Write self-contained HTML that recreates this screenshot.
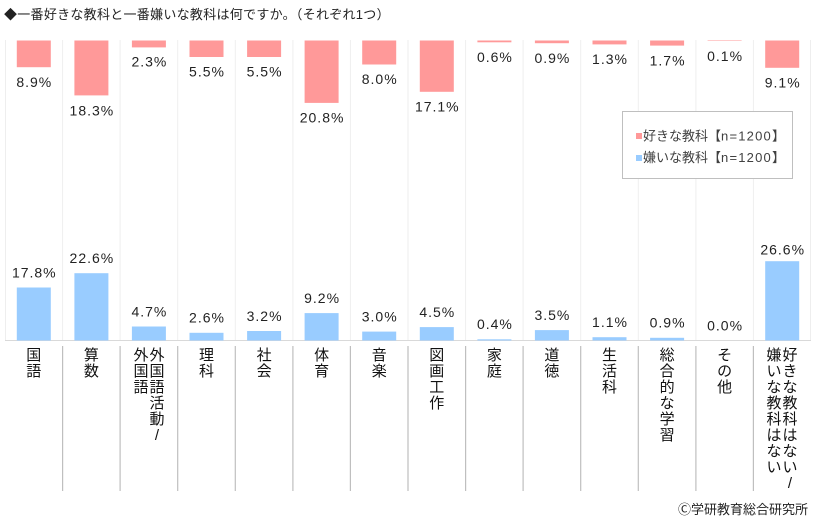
<!DOCTYPE html>
<html><head><meta charset="utf-8">
<style>
html,body{margin:0;padding:0;background:#fff;}
svg{display:block;}
.t{font-family:"Liberation Sans","Noto Sans CJK JP",sans-serif;}
.pct{font-family:"Liberation Sans","Noto Sans CJK JP",sans-serif;font-size:14px;letter-spacing:1px;fill:#222;text-anchor:middle;}
.cat{font-family:"Liberation Sans","Noto Sans CJK JP",sans-serif;font-size:15px;fill:#111;text-anchor:middle;font-weight:400;}
</style></head>
<body>
<svg width="814" height="526" viewBox="0 0 814 526" xmlns="http://www.w3.org/2000/svg">
<text class="t" x="4" y="19" font-size="13" fill="#222" letter-spacing="0.28">◆一番好きな教科と一番嫌いな教科は何ですか。（それぞれ1つ）</text>
<g stroke="#eeeeee" stroke-width="1">
<line x1="5.5" y1="40" x2="5.5" y2="341"/>
<line x1="62.6" y1="40" x2="62.6" y2="341"/>
<line x1="120.1" y1="40" x2="120.1" y2="341"/>
<line x1="177.7" y1="40" x2="177.7" y2="341"/>
<line x1="235.3" y1="40" x2="235.3" y2="341"/>
<line x1="292.9" y1="40" x2="292.9" y2="341"/>
<line x1="350.4" y1="40" x2="350.4" y2="341"/>
<line x1="408" y1="40" x2="408" y2="341"/>
<line x1="465.6" y1="40" x2="465.6" y2="341"/>
<line x1="523.1" y1="40" x2="523.1" y2="341"/>
<line x1="580.7" y1="40" x2="580.7" y2="341"/>
<line x1="638.3" y1="40" x2="638.3" y2="341"/>
<line x1="695.9" y1="40" x2="695.9" y2="341"/>
<line x1="753.4" y1="40" x2="753.4" y2="341"/>
<line x1="810.5" y1="40" x2="810.5" y2="341"/>
</g>
<line x1="5" y1="340.5" x2="811" y2="340.5" stroke="#d9d9d9" stroke-width="1"/>
<g stroke="#bfbfbf" stroke-width="1.2">
<line x1="62.6" y1="346" x2="62.6" y2="491"/>
<line x1="120.1" y1="346" x2="120.1" y2="491"/>
<line x1="177.7" y1="346" x2="177.7" y2="491"/>
<line x1="235.3" y1="346" x2="235.3" y2="491"/>
<line x1="292.9" y1="346" x2="292.9" y2="491"/>
<line x1="350.4" y1="346" x2="350.4" y2="491"/>
<line x1="408" y1="346" x2="408" y2="491"/>
<line x1="465.6" y1="346" x2="465.6" y2="491"/>
<line x1="523.1" y1="346" x2="523.1" y2="491"/>
<line x1="580.7" y1="346" x2="580.7" y2="491"/>
<line x1="638.3" y1="346" x2="638.3" y2="491"/>
<line x1="695.9" y1="346" x2="695.9" y2="491"/>
<line x1="753.4" y1="346" x2="753.4" y2="491"/>
</g>
<!-- pink bars -->
<g fill="#ff9999">
<rect x="16.8" y="40.5" width="34" height="26.7"/>
<rect x="74.4" y="40.5" width="34" height="54.9"/>
<rect x="131.9" y="40.5" width="34" height="6.9"/>
<rect x="189.5" y="40.5" width="34" height="16.5"/>
<rect x="247.1" y="40.5" width="34" height="16.5"/>
<rect x="304.6" y="40.5" width="34" height="62.4"/>
<rect x="362.2" y="40.5" width="34" height="24"/>
<rect x="419.8" y="40.5" width="34" height="51.3"/>
<rect x="477.4" y="40.5" width="34" height="1.8"/>
<rect x="534.9" y="40.5" width="34" height="2.7"/>
<rect x="592.5" y="40.5" width="34" height="3.9"/>
<rect x="650.1" y="40.5" width="34" height="5.1"/>
<rect x="707.6" y="40.5" width="34" height="0.5"/>
<rect x="765.2" y="40.5" width="34" height="27.3"/>
</g>
<!-- blue bars -->
<g fill="#99ccff">
<rect x="16.8" y="287.5" width="34" height="53"/>
<rect x="74.4" y="273.2" width="34" height="67.3"/>
<rect x="131.9" y="326.5" width="34" height="14"/>
<rect x="189.5" y="332.8" width="34" height="7.7"/>
<rect x="247.1" y="331" width="34" height="9.5"/>
<rect x="304.6" y="313.1" width="34" height="27.4"/>
<rect x="362.2" y="331.6" width="34" height="8.9"/>
<rect x="419.8" y="327.1" width="34" height="13.4"/>
<rect x="477.4" y="339.3" width="34" height="1.2"/>
<rect x="534.9" y="330.1" width="34" height="10.4"/>
<rect x="592.5" y="337.2" width="34" height="3.3"/>
<rect x="650.1" y="337.8" width="34" height="2.7"/>
<rect x="765.2" y="261.2" width="34" height="79.3"/>
</g>
<!-- pink labels -->
<text class="pct" x="34.3" y="87">8.9%</text>
<text class="pct" x="91.9" y="115.5">18.3%</text>
<text class="pct" x="149.4" y="66.5">2.3%</text>
<text class="pct" x="207" y="76.5">5.5%</text>
<text class="pct" x="264.6" y="76.5">5.5%</text>
<text class="pct" x="322.1" y="122.5">20.8%</text>
<text class="pct" x="379.7" y="84">8.0%</text>
<text class="pct" x="437.3" y="111.5">17.1%</text>
<text class="pct" x="494.9" y="62">0.6%</text>
<text class="pct" x="552.4" y="63">0.9%</text>
<text class="pct" x="610" y="64">1.3%</text>
<text class="pct" x="667.6" y="65.5">1.7%</text>
<text class="pct" x="725.1" y="61">0.1%</text>
<text class="pct" x="782.7" y="87.5">9.1%</text>
<!-- blue labels -->
<text class="pct" x="34.3" y="277.3">17.8%</text>
<text class="pct" x="91.9" y="263">22.6%</text>
<text class="pct" x="149.4" y="316.3">4.7%</text>
<text class="pct" x="207" y="322.6">2.6%</text>
<text class="pct" x="264.6" y="320.8">3.2%</text>
<text class="pct" x="322.1" y="302.9">9.2%</text>
<text class="pct" x="379.7" y="321.4">3.0%</text>
<text class="pct" x="437.3" y="316.9">4.5%</text>
<text class="pct" x="494.9" y="329.1">0.4%</text>
<text class="pct" x="552.4" y="319.9">3.5%</text>
<text class="pct" x="610" y="327">1.1%</text>
<text class="pct" x="667.6" y="327.6">0.9%</text>
<text class="pct" x="725.1" y="330.3">0.0%</text>
<text class="pct" x="782.7" y="254.5">26.6%</text>
<!-- legend -->
<rect x="622.5" y="111.5" width="170" height="67" fill="#fff" stroke="#bfbfbf" stroke-width="1"/>
<rect x="636" y="133" width="6" height="6" fill="#ff9999"/>
<rect x="636" y="155" width="6" height="6" fill="#99ccff"/>
<text class="t" x="643" y="140.5" font-size="13" fill="#404040">好きな教科【<tspan letter-spacing="1.2">n=1200</tspan>】</text>
<text class="t" x="643" y="162" font-size="13" fill="#404040">嫌いな教科【<tspan letter-spacing="1.2">n=1200</tspan>】</text>
<!-- category labels -->
<g class="cat">
<text x="33.8" y="360">国</text><text x="33.8" y="376">語</text>
<text x="91.4" y="360">算</text><text x="91.4" y="376">数</text>
<text x="157" y="360">外</text><text x="157" y="376">国</text><text x="157" y="392">語</text><text x="157" y="408">活</text><text x="157" y="424">動</text><text x="157" y="440">/</text>
<text x="141" y="360">外</text><text x="141" y="376">国</text><text x="141" y="392">語</text>
<text x="206.5" y="360">理</text><text x="206.5" y="376">科</text>
<text x="264.1" y="360">社</text><text x="264.1" y="376">会</text>
<text x="321.6" y="360">体</text><text x="321.6" y="376">育</text>
<text x="379.2" y="360">音</text><text x="379.2" y="376">楽</text>
<text x="436.8" y="360">図</text><text x="436.8" y="376">画</text><text x="436.8" y="392">工</text><text x="436.8" y="408">作</text>
<text x="494.4" y="360">家</text><text x="494.4" y="376">庭</text>
<text x="551.9" y="360">道</text><text x="551.9" y="376">徳</text>
<text x="609.5" y="360">生</text><text x="609.5" y="376">活</text><text x="609.5" y="392">科</text>
<text x="667.1" y="360">総</text><text x="667.1" y="376">合</text><text x="667.1" y="392">的</text><text x="667.1" y="408">な</text><text x="667.1" y="424">学</text><text x="667.1" y="440">習</text>
<text x="724.6" y="360">そ</text><text x="724.6" y="376">の</text><text x="724.6" y="392">他</text>
<text x="790" y="360">好</text><text x="790" y="376">き</text><text x="790" y="392">な</text><text x="790" y="408">教</text><text x="790" y="424">科</text><text x="790" y="440">は</text><text x="790" y="456">な</text><text x="790" y="472">い</text><text x="790" y="488">/</text>
<text x="774" y="360">嫌</text><text x="774" y="376">い</text><text x="774" y="392">な</text><text x="774" y="408">教</text><text x="774" y="424">科</text><text x="774" y="440">は</text><text x="774" y="456">な</text><text x="774" y="472">い</text>
</g>
<text class="t" x="808" y="514" font-size="13" fill="#222" text-anchor="end">Ⓒ学研教育総合研究所</text>
</svg>
</body></html>
